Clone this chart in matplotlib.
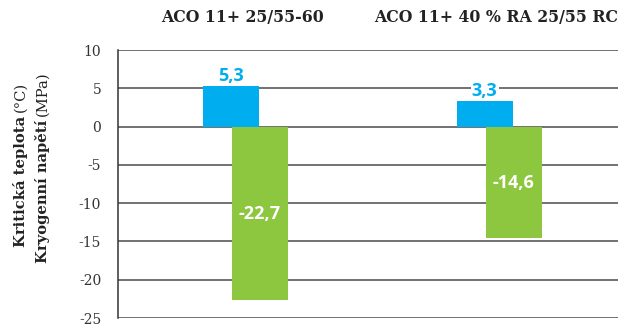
import matplotlib
matplotlib.use("Agg")
import matplotlib.pyplot as plt
import numpy as np

# Mixture names and measured values
mixtures = ["ACO 11+ 25/55-60", "ACO 11+ 40 % RA 25/55 RC"]
critical_temp = [5.3, 3.3]       # Kritická teplota (°C)
cryo_stress = [-22.7, -14.6]     # Kryogenní napětí (MPa)

blue = "#00AEEF"
green = "#8DC63F"
serif = "DejaVu Serif"
sans = "Open Sans"
plt.rcParams["axes.unicode_minus"] = False

fig = plt.figure(figsize=(6.2, 3.25), dpi=100)
ax = fig.add_axes([0.190, 0.0215, 0.807, 0.8245])

x = np.arange(len(mixtures))
width = 0.221
off = 0.057

ax.set_ylim(-25, 10)
ax.set_xlim(-0.503, 1.469)
ax.set_yticks(np.arange(-25, 11, 5))
ax.yaxis.grid(True, color="#4a4a4a", linewidth=1.1)
ax.set_axisbelow(True)

b1 = ax.bar(x - off, critical_temp, width, color=blue, zorder=3)
b2 = ax.bar(x + off, cryo_stress, width, color=green, zorder=3)

# value labels: blue above the bar on white, green in the middle of the bar
for rect, v in zip(b1, critical_temp):
    ax.text(rect.get_x() + rect.get_width() / 2, v + 0.15, f"{v:.1f}".replace(".", ","),
            ha="center", va="bottom", color=blue, fontsize=13, fontweight="bold",
            family=sans, zorder=4,
            bbox=dict(facecolor="white", edgecolor="none", pad=0.8))
for rect, v in zip(b2, cryo_stress):
    ax.text(rect.get_x() + rect.get_width() / 2, v / 2, f"{v:.1f}".replace(".", ","),
            ha="center", va="center", color="white", fontsize=13, fontweight="bold",
            family=sans, zorder=4)

for sp in ["top", "right", "bottom"]:
    ax.spines[sp].set_visible(False)
ax.spines["left"].set_color("#333333")
ax.spines["left"].set_linewidth(1.1)
ax.set_xticks([])
ax.tick_params(axis="y", length=0, pad=12)
for lab in ax.get_yticklabels():
    lab.set_family(serif)
    lab.set_fontsize(10)
    lab.set_color("#333333")

# mixture names above the plot
for xi, name in zip([243, 496], mixtures):
    fig.text(xi / 620, 1 - 18 / 325, name, ha="center", va="center",
             family=serif, fontweight="bold", fontsize=11.3, color="#222222")

# two-line y label, bold name followed by regular unit
fig.canvas.draw()
renderer = fig.canvas.get_renderer()
for cx, base, bold_part, unit in [(21, 78, "Kritická teplota", "(°C)"),
                                  (43, 62, "Kryogenní napětí", "(MPa)")]:
    t = fig.text(cx / 620, base / 325, bold_part, rotation=90, ha="center", va="bottom",
                 family=serif, fontweight="bold", fontsize=10.6, color="#222222")
    bb = t.get_window_extent(renderer)
    fig.text(cx / 620, (bb.y1 + 4) / 325, unit, rotation=90, ha="center", va="bottom",
             family=serif, fontsize=10.6, color="#222222")

fig.savefig("out.png", dpi=100)
